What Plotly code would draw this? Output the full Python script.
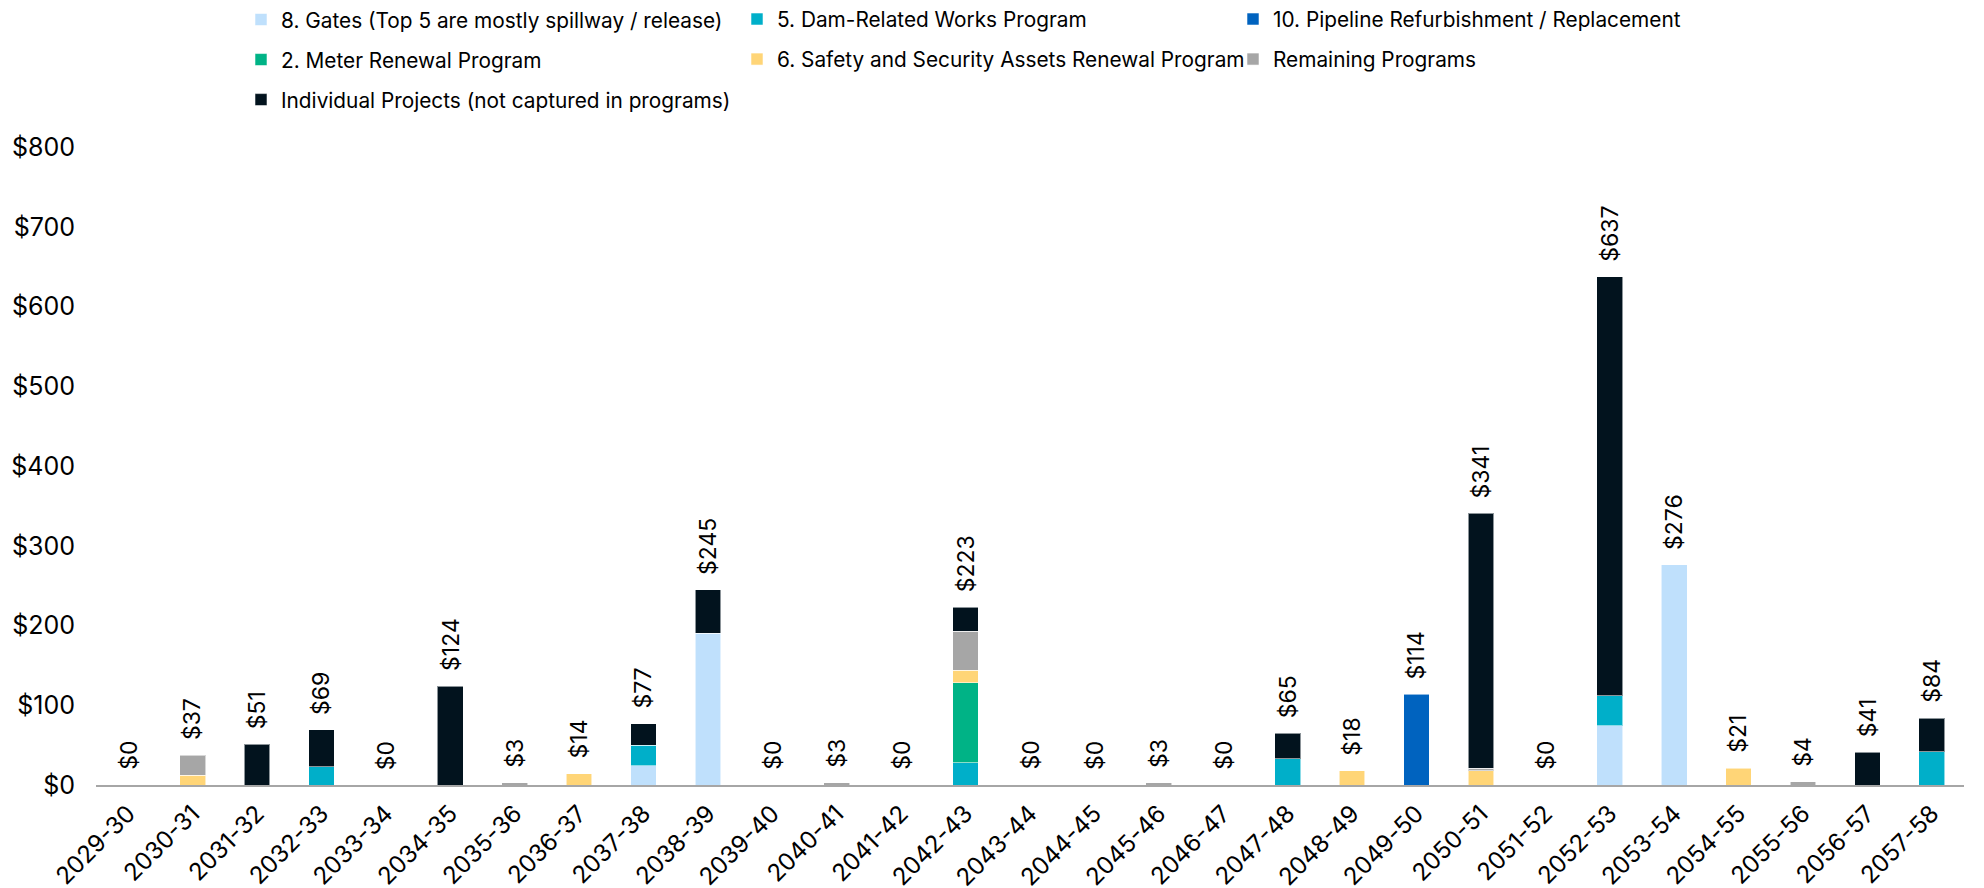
import plotly.graph_objects as go

categories = ["2029-30", "2030-31", "2031-32", "2032-33", "2033-34", "2034-35", "2035-36",
              "2036-37", "2037-38", "2038-39", "2039-40", "2040-41", "2041-42", "2042-43",
              "2043-44", "2044-45", "2045-46", "2046-47", "2047-48", "2048-49", "2049-50",
              "2050-51", "2051-52", "2052-53", "2053-54", "2054-55", "2055-56", "2056-57",
              "2057-58"]

gates      = [0, 0, 0, 0, 0, 0, 0, 0, 24, 190, 0, 0, 0, 0, 0, 0, 0, 0, 0, 0, 0, 0, 0, 74, 276, 0, 0, 0, 0]
dam        = [0, 0, 0, 23, 0, 0, 0, 0, 26, 0, 0, 0, 0, 28, 0, 0, 0, 0, 33, 0, 0, 0, 0, 38, 0, 0, 0, 0, 42]
pipeline   = [0, 0, 0, 0, 0, 0, 0, 0, 0, 0, 0, 0, 0, 0, 0, 0, 0, 0, 0, 0, 114, 0, 0, 0, 0, 0, 0, 0, 0]
meter      = [0, 0, 0, 0, 0, 0, 0, 0, 0, 0, 0, 0, 0, 100, 0, 0, 0, 0, 0, 0, 0, 0, 0, 0, 0, 0, 0, 0, 0]
safety     = [0, 12, 0, 0, 0, 0, 0, 14, 0, 0, 0, 0, 0, 16, 0, 0, 0, 0, 0, 18, 0, 18, 0, 0, 0, 21, 0, 0, 0]
remaining  = [0, 25, 0, 0, 0, 0, 3, 0, 0, 0, 0, 3, 0, 49, 0, 0, 3, 0, 0, 0, 0, 3, 0, 0, 0, 0, 4, 0, 0]
individual = [0, 0, 51, 46, 0, 124, 0, 0, 27, 55, 0, 0, 0, 30, 0, 0, 0, 0, 32, 0, 0, 320, 0, 525, 0, 0, 0, 41, 42]

series = [
    ("8. Gates (Top 5 are mostly spillway / release)", gates, "#BFE0FC", "legend"),
    ("5. Dam-Related Works Program", dam, "#00AFC9", "legend2"),
    ("10. Pipeline Refurbishment / Replacement", pipeline, "#0063BF", "legend3"),
    ("2. Meter Renewal Program", meter, "#00B386", "legend"),
    ("6. Safety and Security Assets Renewal Program", safety, "#FFD577", "legend2"),
    ("Remaining Programs", remaining, "#A6A6A6", "legend3"),
    ("Individual Projects (not captured in programs)", individual, "#02131E", "legend"),
]

totals = [sum(s[1][i] for s in series) for i in range(len(categories))]

FONT = "Inter, Roboto, sans-serif"

fig = go.Figure()
for i, (name, vals, color, leg) in enumerate(series):
    fig.add_trace(go.Bar(
        x=categories,
        y=[v if v else None for v in vals],
        name=name,
        marker=dict(color=color, line=dict(color="rgba(255,255,255,0.55)", width=1)),
        legend=leg,
        legendgroup="g%d" % i,
        hoverinfo="x+y+name",
    ))

for c, t in zip(categories, totals):
    fig.add_annotation(
        x=c, y=t, text="$%d" % round(t), textangle=-90,
        xanchor="center", yanchor="bottom", yshift=13, showarrow=False,
        font=dict(family=FONT, size=23, color="#000000"),
    )

legend_common = dict(
    orientation="v", xref="container", yref="container", yanchor="middle", xanchor="left",
    font=dict(family=FONT, size=20.8, color="#000000"),
    traceorder="grouped", tracegroupgap=10, bgcolor="rgba(0,0,0,0)",
    itemwidth=30,
)

fig.update_layout(
    barmode="stack",
    bargap=0.6,
    width=1984,
    height=888,
    margin=dict(l=88, r=28, t=139, b=111, autoexpand=False),
    plot_bgcolor="#FFFFFF",
    paper_bgcolor="#FFFFFF",
    font=dict(family=FONT, size=22, color="#000000"),
    legend=dict(x=233 / 1984, y=1 - 52 / 888, **legend_common),
    legend2=dict(x=729 / 1984, y=1 - 31.5 / 888, **legend_common),
    legend3=dict(x=1225 / 1984, y=1 - 31.5 / 888, **legend_common),
    xaxis=dict(
        type="category",
        tickangle=-45,
        showline=True, linecolor="#A6A6A6", linewidth=2,
        ticks="", showgrid=False, ticklabelstandoff=3,
        tickfont=dict(family=FONT, size=24, color="#000000"),
    ),
    yaxis=dict(
        range=[0, 800], dtick=100, tickprefix="$",
        showgrid=False, zeroline=False, showline=False, ticks="",
        ticklabelstandoff=20,
        tickfont=dict(family=FONT, size=25, color="#000000"),
    ),
)

fig.write_html("out.html")
